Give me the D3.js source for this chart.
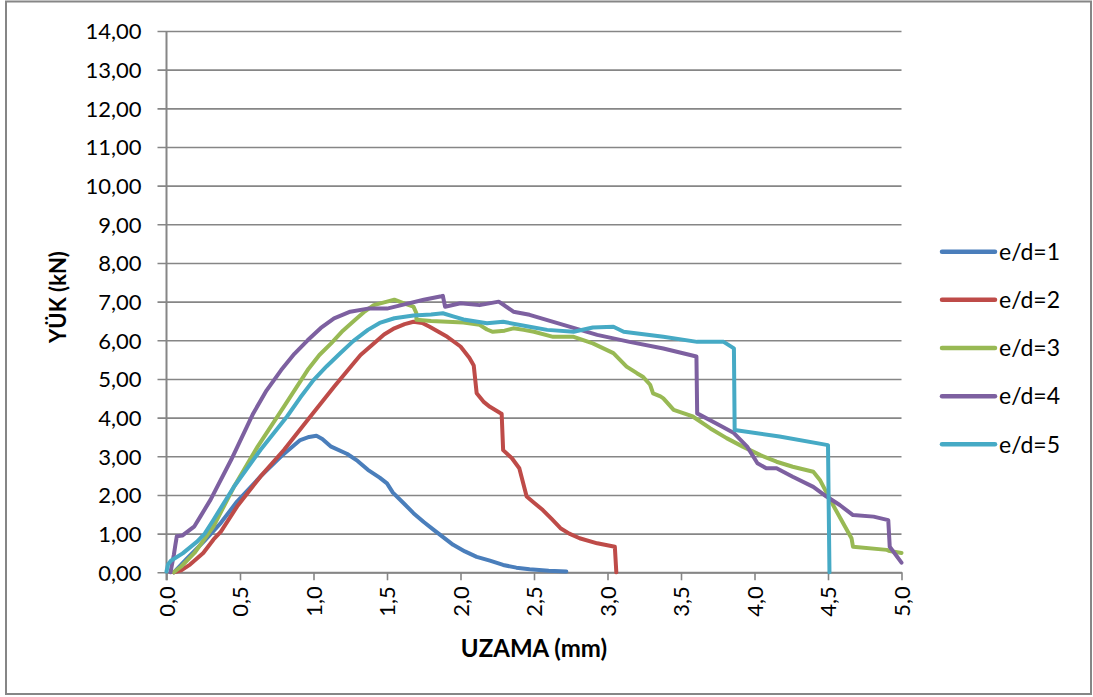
<!DOCTYPE html>
<html>
<head>
<meta charset="utf-8">
<script src="https://cdn.jsdelivr.net/npm/d3@7"></script>
<style>
  html, body { margin: 0; padding: 0; background: #fff; }
  svg { display: block; font-family: Lato, "Open Sans", sans-serif; }
</style>
</head>
<body>
<svg id="chart" width="1093" height="697"></svg>
<script>
// Load–elongation curves for five e/d ratios
const seriesNames = ["e/d=1", "e/d=2", "e/d=3", "e/d=4", "e/d=5"];
const seriesColors = ["#4A7EBB", "#BE4B48", "#98B954", "#7D60A0", "#46AAC5"];

const ed1 = [[0.05,0],[0.10,0.2],[0.14,0.36],[0.25,0.78],[0.37,1.28],[0.48,1.83],[0.64,2.48],[0.78,3.0],[0.91,3.42],[0.97,3.5],[1.02,3.53],[1.06,3.45],[1.12,3.25],[1.23,3.06],[1.30,2.88],[1.37,2.65],[1.45,2.45],[1.50,2.30],[1.54,2.06],[1.61,1.80],[1.68,1.53],[1.75,1.30],[1.82,1.09],[1.95,0.71],[2.03,0.54],[2.11,0.40],[2.20,0.30],[2.29,0.19],[2.38,0.12],[2.47,0.08],[2.60,0.04],[2.72,0.02]];
const ed2 = [[0.05,0],[0.10,0.05],[0.16,0.2],[0.25,0.5],[0.32,0.85],[0.37,1.05],[0.48,1.70],[0.64,2.48],[0.80,3.17],[0.96,3.94],[1.14,4.80],[1.26,5.35],[1.32,5.62],[1.41,5.92],[1.48,6.15],[1.55,6.31],[1.62,6.42],[1.68,6.48],[1.74,6.45],[1.79,6.35],[1.85,6.22],[1.91,6.09],[2.00,5.84],[2.06,5.55],[2.09,5.35],[2.11,4.63],[2.16,4.40],[2.20,4.28],[2.27,4.12],[2.28,4.10],[2.29,3.16],[2.35,2.95],[2.40,2.69],[2.45,1.96],[2.50,1.80],[2.56,1.61],[2.62,1.38],[2.68,1.14],[2.74,1.00],[2.81,0.88],[2.93,0.75],[3.05,0.66],[3.06,0]];
const ed3 = [[0.05,0],[0.10,0.15],[0.19,0.5],[0.32,1.19],[0.46,2.22],[0.62,3.25],[0.80,4.29],[0.96,5.23],[1.04,5.62],[1.12,5.92],[1.20,6.25],[1.28,6.52],[1.35,6.75],[1.41,6.91],[1.50,7.0],[1.55,7.05],[1.62,6.95],[1.68,6.87],[1.70,6.70],[1.70,6.53],[1.80,6.50],[1.91,6.48],[2.02,6.46],[2.13,6.40],[2.18,6.28],[2.22,6.22],[2.30,6.25],[2.36,6.31],[2.43,6.27],[2.50,6.22],[2.63,6.09],[2.77,6.09],[2.90,5.92],[3.04,5.67],[3.13,5.32],[3.20,5.15],[3.24,5.06],[3.29,4.85],[3.31,4.63],[3.36,4.55],[3.38,4.50],[3.45,4.20],[3.58,4.03],[3.70,3.72],[3.81,3.47],[3.92,3.25],[4.04,3.03],[4.15,2.86],[4.26,2.73],[4.40,2.60],[4.445,2.39],[4.54,1.70],[4.66,0.88],[4.67,0.66],[4.90,0.58],[4.92,0.55],[5.0,0.50]];
const ed4 = [[0.027,0],[0.05,0.45],[0.06,0.7],[0.07,0.93],[0.107,0.95],[0.19,1.19],[0.23,1.44],[0.30,1.88],[0.44,2.91],[0.59,4.11],[0.68,4.70],[0.78,5.23],[0.87,5.65],[0.96,6.0],[1.05,6.32],[1.14,6.57],[1.25,6.74],[1.37,6.82],[1.50,6.82],[1.64,6.95],[1.75,7.05],[1.87,7.14],[1.88,7.15],[1.895,6.87],[2.0,6.96],[2.13,6.91],[2.26,7.0],[2.30,6.90],[2.36,6.74],[2.47,6.66],[2.70,6.40],[2.93,6.14],[3.15,5.96],[3.38,5.79],[3.605,5.58],[3.61,4.11],[3.74,3.85],[3.86,3.60],[3.95,3.25],[4.02,2.82],[4.08,2.69],[4.15,2.69],[4.26,2.47],[4.40,2.21],[4.49,1.96],[4.58,1.74],[4.67,1.48],[4.81,1.44],[4.91,1.35],[4.92,0.66],[5.0,0.25]];
const ed5 = [[0,0.02],[0.01,0.2],[0.03,0.3],[0.11,0.49],[0.21,0.80],[0.26,1.0],[0.32,1.36],[0.46,2.22],[0.64,3.17],[0.82,4.03],[0.91,4.52],[1.0,4.97],[1.09,5.33],[1.18,5.66],[1.27,5.98],[1.37,6.27],[1.45,6.45],[1.55,6.57],[1.68,6.64],[1.80,6.67],[1.88,6.70],[1.95,6.62],[2.02,6.54],[2.18,6.44],[2.29,6.48],[2.47,6.35],[2.59,6.27],[2.77,6.22],[2.90,6.33],[3.04,6.35],[3.11,6.22],[3.38,6.09],[3.61,5.96],[3.79,5.96],[3.86,5.79],[3.865,3.68],[4.17,3.51],[4.50,3.29],[4.51,0]];

const xTicks = [0, 0.5, 1, 1.5, 2, 2.5, 3, 3.5, 4, 4.5, 5];
const yTicks = [0, 1, 2, 3, 4, 5, 6, 7, 8, 9, 10, 11, 12, 13, 14];
const xTitle = "UZAMA (mm)";
const yTitle = "YÜK (kN)";

const allSeries = [ed1, ed2, ed3, ed4, ed5];

const svg = d3.select("#chart");
const gray = "#868686";

// Outer frame
svg.append("rect")
  .attr("x", 6).attr("y", 1.5)
  .attr("width", 1085).attr("height", 692.5)
  .attr("fill", "#fff").attr("stroke", gray).attr("stroke-width", 2);

const x = d3.scaleLinear().domain([0, 5]).range([166.5, 901.5]);
const y = d3.scaleLinear().domain([0, 14]).range([572.3, 31]);

const comma = v => v.toString().replace(".", ",");

// Horizontal gridlines with left ticks
const yAxis = d3.axisLeft(y)
  .tickValues(yTicks)
  .tickSize(-(x(5) - x(0)))
  .tickSizeOuter(0)
  .tickPadding(25)
  .tickFormat(v => comma(v.toFixed(2)));
const gy = svg.append("g").attr("transform", `translate(${x(0)},0)`).call(yAxis);
gy.select(".domain").remove();
gy.selectAll(".tick line").attr("stroke", gray).attr("stroke-width", 1.6).attr("x1", -9);
gy.selectAll(".tick text")
  .attr("fill", "#000").attr("font-size", 22).attr("font-family", "Lato, sans-serif")
  .attr("dy", "0.36em");

// Vertical axis line
svg.append("line")
  .attr("x1", x(0)).attr("x2", x(0))
  .attr("y1", y(14)).attr("y2", y(0) + 8)
  .attr("stroke", gray).attr("stroke-width", 2);

// X axis
const xAxis = d3.axisBottom(x)
  .tickValues(xTicks)
  .tickSize(8)
  .tickSizeOuter(0)
  .tickFormat(v => comma(v.toFixed(1)));
const gx = svg.append("g").attr("transform", `translate(0,${y(0)})`).call(xAxis);
gx.select(".domain").attr("stroke", gray).attr("stroke-width", 2);
gx.selectAll(".tick line").attr("stroke", gray).attr("stroke-width", 1.6);
gx.selectAll(".tick text")
  .attr("fill", "#000").attr("font-size", 22).attr("font-family", "Lato, sans-serif")
  .attr("transform", "rotate(-90)")
  .attr("text-anchor", "end")
  .attr("x", -14).attr("y", 0).attr("dy", "0.36em");

// Series
const line = d3.line().x(d => x(d[0])).y(d => y(d[1]));
svg.append("g").selectAll("path")
  .data(allSeries)
  .join("path")
  .attr("d", line)
  .attr("fill", "none")
  .attr("stroke", (d, i) => seriesColors[i])
  .attr("stroke-width", 4)
  .attr("stroke-linejoin", "round")
  .attr("stroke-linecap", "round");

// Axis titles
svg.append("text")
  .attr("x", 534).attr("y", 657)
  .attr("text-anchor", "middle")
  .attr("font-size", 24).attr("font-weight", "bold")
  .attr("font-family", "Lato, sans-serif")
  .text(xTitle);

svg.append("text")
  .attr("transform", "translate(66,297) rotate(-90)")
  .attr("text-anchor", "middle")
  .attr("font-size", 22).attr("font-weight", "bold")
  .attr("font-family", "Lato, sans-serif")
  .text(yTitle);

// Legend
const legendY = d3.scalePoint().domain(seriesNames).range([251.7, 444.3]);
const lg = svg.append("g").selectAll("g")
  .data(seriesNames)
  .join("g")
  .attr("transform", d => `translate(0,${legendY(d)})`);
lg.append("line")
  .attr("x1", 942).attr("x2", 995)
  .attr("stroke", (d, i) => seriesColors[i])
  .attr("stroke-width", 4.5)
  .attr("stroke-linecap", "round");
lg.append("text")
  .attr("x", 999).attr("dy", "0.36em")
  .attr("font-size", 23).attr("font-family", "Lato, sans-serif")
  .text(d => d);
</script>
</body>
</html>
